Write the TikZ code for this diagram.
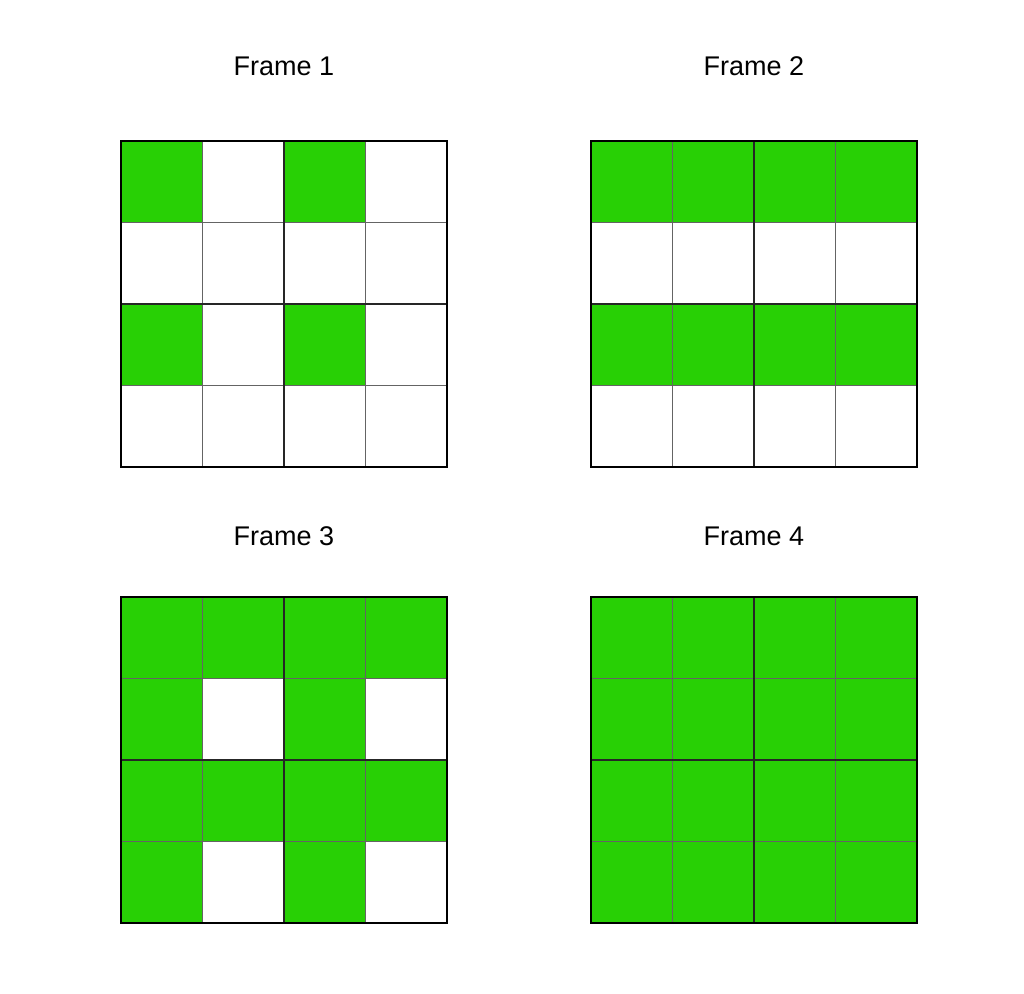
\documentclass[tikz,border=0pt]{standalone}
\usepackage{fontspec}
\setmainfont{Liberation Sans}
\definecolor{cellgreen}{RGB}{40,208,5}
\definecolor{thingray}{RGB}{100,100,100}
\begin{document}
\begin{tikzpicture}[x=1pt,y=-1pt,
  title/.style={font=\fontsize{27}{32}\selectfont, anchor=center, inner sep=0pt},
  fillcell/.style={fill=cellgreen, draw=none},
  thinline/.style={draw=thingray, line width=1pt},
  midline/.style={draw=black!85, line width=1.4pt},
  border/.style={draw=black, line width=1.6pt}]
\useasboundingbox (0,0) rectangle (1024,993);
\def\cs{81.5}
% grid drawing macro: #1 = x0, #2 = y0, #3 = list of green cells r/c
\newcommand{\drawgrid}[3]{%
  \foreach \r/\c in {#3} {
    \fill[cellgreen] (#1+\c*\cs, #2+\r*\cs) rectangle ++(\cs,\cs);
  }
  \foreach \i in {1,3} {
    \draw[thinline] (#1+\i*\cs, #2) -- ++(0, 4*\cs);
    \draw[thinline] (#1, #2+\i*\cs) -- ++(4*\cs, 0);
  }
  \draw[midline] (#1+2*\cs, #2) -- ++(0, 4*\cs);
  \draw[midline] (#1, #2+2*\cs) -- ++(4*\cs, 0);
  \draw[border] (#1, #2) rectangle ++(4*\cs, 4*\cs);
}
\node[title] (t1) at (284,66) {Frame 1};
\node[title] (t2) at (754,66) {Frame 2};
\node[title] (t3) at (284,536) {Frame 3};
\node[title] (t4) at (754,536) {Frame 4};
\drawgrid{121}{141}{0/0,0/2,2/0,2/2}
\drawgrid{591}{141}{0/0,0/1,0/2,0/3,2/0,2/1,2/2,2/3}
\drawgrid{121}{597}{0/0,0/1,0/2,0/3,1/0,1/2,2/0,2/1,2/2,2/3,3/0,3/2}
\drawgrid{591}{597}{0/0,0/1,0/2,0/3,1/0,1/1,1/2,1/3,2/0,2/1,2/2,2/3,3/0,3/1,3/2,3/3}
\end{tikzpicture}
\end{document}
